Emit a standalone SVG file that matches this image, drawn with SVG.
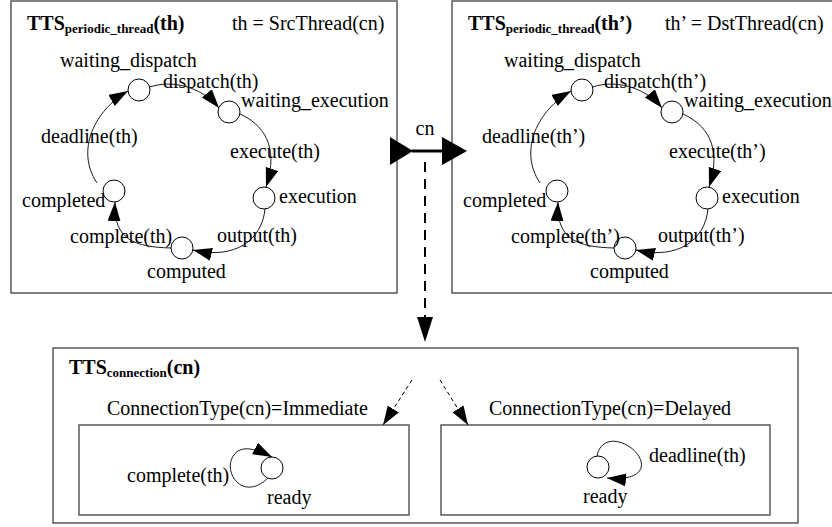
<svg xmlns="http://www.w3.org/2000/svg" width="832" height="527" viewBox="0 0 832 527">
<style>
text{font-family:"Liberation Serif","Times New Roman",serif;font-size:20px;fill:#000}
.b{font-weight:bold}
.sub{font-size:13px;font-weight:bold}
.box{fill:none;stroke:#4d4d4d;stroke-width:1.4}
.st{fill:#fff;stroke:#000;stroke-width:1}
.e{fill:none;stroke:#000;stroke-width:0.9}
.dash{fill:none;stroke:#000;stroke-width:1;stroke-dasharray:4 3}
</style>
<defs>
<marker id="ah" markerUnits="userSpaceOnUse" markerWidth="20" markerHeight="14" refX="19" refY="6.5" orient="auto">
<path d="M0,0 L19,6.5 L0,13 Z" fill="#000"/>
</marker>
</defs>

<g id="src-thread">
<rect class="box" x="11" y="1" width="386" height="292"/>
<text x="27" y="30" class="b">TTS<tspan class="sub" dy="3">periodic_thread</tspan><tspan dy="-3">(th)</tspan></text>
<text x="232" y="30">th = SrcThread(cn)</text>
<g id="src-edges">
<path class="e" d="M150,87 C170,80 200,85 219,108" marker-end="url(#ah)"/>
<path class="e" d="M240,114 C262,124 280,145 266,187" marker-end="url(#ah)"/>
<path class="e" d="M265,209 C262,240 235,260 193,250" marker-end="url(#ah)"/>
<path class="e" d="M171,248 C135,247 113,240 115,202" marker-end="url(#ah)"/>
<path class="e" d="M97,183 C75,150 95,110 128,91" marker-end="url(#ah)"/>
</g>
<g id="src-wd"><circle class="st" cx="139" cy="90" r="11"/><text x="60" y="67">waiting_dispatch</text></g>
<g id="src-we"><circle class="st" cx="229" cy="112" r="11"/><text x="241" y="107">waiting_execution</text></g>
<g id="src-ex"><circle class="st" cx="264" cy="198" r="11"/><text x="279" y="203">execution</text></g>
<g id="src-cp"><circle class="st" cx="182" cy="248" r="11"/><text x="147" y="278">computed</text></g>
<g id="src-cd"><circle class="st" cx="114" cy="191" r="11"/><text x="22" y="207">completed</text></g>
<text x="163" y="88">dispatch(th)</text>
<text x="230" y="158">execute(th)</text>
<text x="217" y="242">output(th)</text>
<text x="70" y="243">complete(th)</text>
<text x="41" y="143">deadline(th)</text>
</g>

<g id="dst-thread">
<rect class="box" x="452" y="1" width="386" height="292"/>
<text x="468" y="30" class="b">TTS<tspan class="sub" dy="3">periodic_thread</tspan><tspan dy="-3">(th’)</tspan></text>
<text x="665" y="30">th’ = DstThread(cn)</text>
<g id="dst-edges" transform="translate(443,0)">
<path class="e" d="M150,87 C170,80 200,85 219,108" marker-end="url(#ah)"/>
<path class="e" d="M240,114 C262,124 280,145 266,187" marker-end="url(#ah)"/>
<path class="e" d="M265,209 C262,240 235,260 193,250" marker-end="url(#ah)"/>
<path class="e" d="M171,248 C135,247 113,240 115,202" marker-end="url(#ah)"/>
<path class="e" d="M97,183 C75,150 95,110 128,91" marker-end="url(#ah)"/>
</g>
<g id="dst-wd"><circle class="st" cx="582" cy="90" r="11"/><text x="504" y="67">waiting_dispatch</text></g>
<g id="dst-we"><circle class="st" cx="672" cy="112" r="11"/><text x="684" y="107">waiting_execution</text></g>
<g id="dst-ex"><circle class="st" cx="707" cy="198" r="11"/><text x="722" y="203">execution</text></g>
<g id="dst-cp"><circle class="st" cx="625" cy="248" r="11"/><text x="590" y="278">computed</text></g>
<g id="dst-cd"><circle class="st" cx="557" cy="191" r="11"/><text x="463" y="207">completed</text></g>
<text x="604" y="88">dispatch(th’)</text>
<text x="669" y="158">execute(th’)</text>
<text x="658" y="242">output(th’)</text>
<text x="511" y="243">complete(th’)</text>
<text x="482" y="143">deadline(th’)</text>
</g>

<g id="connection">
<rect class="box" x="53" y="348" width="745" height="175"/>
<text x="69" y="374" class="b">TTS<tspan class="sub" dy="3">connection</tspan><tspan dy="-3">(cn)</tspan></text>
<g id="immediate">
<text x="107" y="415">ConnectionType(cn)=Immediate</text>
<rect class="box" x="79" y="425" width="330" height="90"/>
<path class="e" d="M268,478 C240,505 218,465 238,451 C246,446 258,450 272,457" marker-end="url(#ah)"/>
<circle class="st" cx="272" cy="468" r="11"/>
<text x="127" y="482">complete(th)</text>
<text x="267" y="504">ready</text>
</g>
<g id="delayed">
<text x="489" y="415">ConnectionType(cn)=Delayed</text>
<rect class="box" x="441" y="425" width="329" height="90"/>
<path class="e" d="M597,456 C600,440 615,437 630,447 C648,460 648,482 607,478" marker-end="url(#ah)"/>
<circle class="st" cx="598" cy="467" r="11"/>
<text x="649" y="462">deadline(th)</text>
<text x="583" y="503">ready</text>
</g>
</g>

<g id="connectors">
<polygon points="390,137 413,151 390,165" fill="#000"/>
<line x1="412" y1="151" x2="443" y2="151" stroke="#000" stroke-width="3"/>
<polygon points="442,137 467,151 442,165" fill="#000"/>
<text x="425" y="135" text-anchor="middle">cn</text>
<line x1="425" y1="162" x2="425" y2="318" stroke="#000" stroke-width="2" stroke-dasharray="10 7"/>
<polygon points="417,317 433,317 425,342" fill="#000"/>
<path class="dash" d="M412,380 L383,425" marker-end="url(#ah)"/>
<path class="dash" d="M440,380 L468,425" marker-end="url(#ah)"/>
</g>
</svg>
